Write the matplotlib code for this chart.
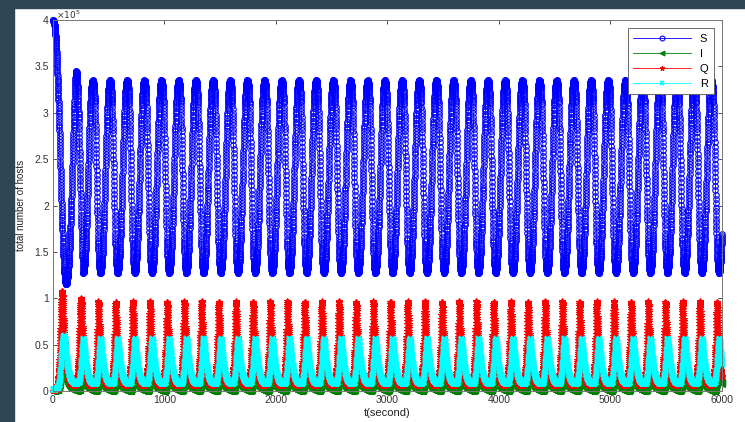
import matplotlib.pyplot as plt
import numpy as np
from matplotlib.patches import Rectangle

plt.switch_backend("Agg")
plt.rcParams["font.family"] = ["Liberation Sans", "DejaVu Sans"]

T_END = 6000
DT = 0.8
FIRST_TROUGH = 117.0   # first minimum of S (s)
PERIOD = 154.1         # steady oscillation period (s)

# opening transient, t in seconds, values in units of 1e5 hosts
S_START_T = [0, 8, 16, 24, 32, 40, 50, 60, 70, 80, 90, 100, 110, 117, 125, 135, 145, 155,
             165, 175, 185, 195, 202, 208, 214, 222, 232, 242, 252, 262, 271]
S_START = [4.0, 3.98, 3.93, 3.82, 3.65, 3.42, 3.1, 2.72, 2.3, 1.9, 1.55, 1.3, 1.18, 1.15,
           1.17, 1.27, 1.45, 1.72, 2.05, 2.45, 2.85, 3.2, 3.38, 3.45, 3.42, 3.25, 2.9, 2.4,
           1.9, 1.5, 1.27]
I_START_T = [0, 40, 55, 65, 75, 85, 95, 105, 117, 130, 145, 165, 190, 215, 240, 248, 254,
             260, 265, 271]
I_START = [0.002, 0.008, 0.04, 0.12, 0.28, 0.42, 0.33, 0.24, 0.16, 0.1, 0.055, 0.025,
           0.008, 0.003, 0.012, 0.07, 0.2, 0.35, 0.38, 0.3]
Q_START_T = [0, 20, 35, 45, 55, 63, 70, 76, 81, 86, 92, 100, 108, 117, 127, 140, 155, 175,
             195, 205, 213, 220, 226, 231, 236, 241, 247, 253, 258, 264, 271]
Q_START = [0.0, 0.005, 0.03, 0.09, 0.25, 0.5, 0.78, 0.98, 1.08, 1.02, 0.85, 0.6, 0.42, 0.3,
           0.2, 0.12, 0.08, 0.06, 0.055, 0.07, 0.1, 0.17, 0.28, 0.42, 0.6, 0.8, 0.95, 1.0,
           0.92, 0.72, 0.5]
R_START_T = [0, 20, 40, 55, 65, 75, 85, 93, 99, 107, 116, 127, 140, 155, 170, 190, 215, 232,
             240, 247, 256, 265, 271]
R_START = [0.02, 0.025, 0.04, 0.08, 0.2, 0.38, 0.53, 0.59, 0.6, 0.55, 0.43, 0.3, 0.2, 0.14,
           0.11, 0.09, 0.09, 0.1, 0.13, 0.2, 0.35, 0.5, 0.57]

# one steady cycle, phase in seconds after the S minimum
S_PHASE = [0, 7, 14, 21, 28, 35, 42, 49, 56, 63, 70, 77, 84, 91, 98, 105, 112, 119, 126,
           133, 140, 147]
S_CYCLE = [1.27, 1.30, 1.38, 1.52, 1.72, 1.97, 2.25, 2.55, 2.83, 3.07, 3.23, 3.32, 3.35,
           3.34, 3.27, 3.1, 2.8, 2.4, 1.98, 1.64, 1.42, 1.31]
I_PHASE = [0, 8, 16, 27, 40, 55, 75, 100, 115, 124, 132, 138, 144, 149]
I_CYCLE = [0.3, 0.21, 0.14, 0.08, 0.04, 0.018, 0.006, 0.002, 0.003, 0.015, 0.07, 0.2, 0.35,
           0.38]
Q_PHASE = [0, 5, 10, 15, 20, 27, 35, 45, 60, 84, 95, 103, 110, 116, 121, 126, 131, 136,
           141, 147]
Q_CYCLE = [0.5, 0.38, 0.29, 0.22, 0.18, 0.15, 0.11, 0.08, 0.06, 0.055, 0.07, 0.1, 0.17,
           0.28, 0.42, 0.6, 0.82, 0.97, 0.9, 0.7]
R_PHASE = [0, 8, 17, 28, 40, 55, 70, 90, 110, 119, 130, 139, 148]
R_CYCLE = [0.57, 0.52, 0.4, 0.28, 0.19, 0.13, 0.1, 0.085, 0.085, 0.1, 0.2, 0.35, 0.5]

SERIES = [
    ("S", S_START_T, S_START, S_PHASE, S_CYCLE,
     dict(color="blue", marker="o", mfc="none", ms=4.0, mew=0.8)),
    ("I", I_START_T, I_START, I_PHASE, I_CYCLE,
     dict(color=(0, 0.5, 0), marker="<", ms=5.0, mew=0.8)),
    ("Q", Q_START_T, Q_START, Q_PHASE, Q_CYCLE,
     dict(color="red", marker="*", ms=4.2, mew=0.8)),
    ("R", R_START_T, R_START, R_PHASE, R_CYCLE,
     dict(color="cyan", marker="x", ms=3.6, mew=1.3)),
]


def build_series(t, start_t, start_v, phase, cycle):
    out = np.interp(t, start_t, start_v)
    late = t > start_t[-1]
    ph = (t[late] - FIRST_TROUGH) % PERIOD
    out[late] = np.interp(ph, phase, cycle, period=PERIOD)
    return out


def main():
    t = np.arange(0, T_END + DT / 2, DT)

    fig = plt.figure(figsize=(7.45, 4.22), dpi=100, facecolor="white")
    # dark frame strips along the left and top edges
    fig.patches.append(Rectangle((0, 0), 14 / 745, 1, transform=fig.transFigure,
                                 color="#2e4757", zorder=-5))
    fig.patches.append(Rectangle((0, 1 - 8 / 422), 1, 8 / 422, transform=fig.transFigure,
                                 color="#2e4757", zorder=-5))

    ax = fig.add_axes([53 / 745, 31 / 422, 669 / 745, 371 / 422])
    for name, st, sv, ph, cy, style in SERIES:
        y = build_series(t, st, sv, ph, cy)
        # markers sitting on the axis are drawn whole, not cut at the frame
        ax.plot(t, y, lw=0.6, label=name, clip_on=False, **style)

    ax.set_xlim(0, T_END)
    ax.set_ylim(0, 4)
    ax.set_xticks(np.arange(0, 6001, 1000))
    ax.set_yticks(np.arange(0, 4.01, 0.5))
    ax.set_yticklabels(["0", "0.5", "1", "1.5", "2", "2.5", "3", "3.5", "4"])
    ax.tick_params(direction="in", length=3, width=0.6, labelsize=7.5, colors="#333333",
                   top=True, right=True, pad=3)
    for sp in ax.spines.values():
        sp.set_color("#777777")
        sp.set_linewidth(0.7)
    fig.text(56 / 745, 1 - 15 / 422, r"$\times10^5$", fontsize=6.5, color="#333333",
             va="center", ha="left")

    ax.set_xlabel("t(second)", fontsize=8, labelpad=2, color="#222222")
    ax.set_ylabel("total number of hosts", fontsize=7, labelpad=6, color="#222222")

    leg = ax.legend(loc="upper right", bbox_to_anchor=(0.988, 0.978), borderaxespad=0,
                    fontsize=8, numpoints=1, handlelength=5.2, fancybox=False,
                    framealpha=1, edgecolor="#555555", borderpad=0.5, labelspacing=0.45)
    leg.get_frame().set_linewidth(0.6)
    leg.set_zorder(5)
    for h in leg.legend_handles:
        h.set_markersize(3.5)

    fig.savefig("out.png", dpi=100, facecolor=fig.get_facecolor())
    plt.close(fig)


if __name__ == "__main__":
    main()
